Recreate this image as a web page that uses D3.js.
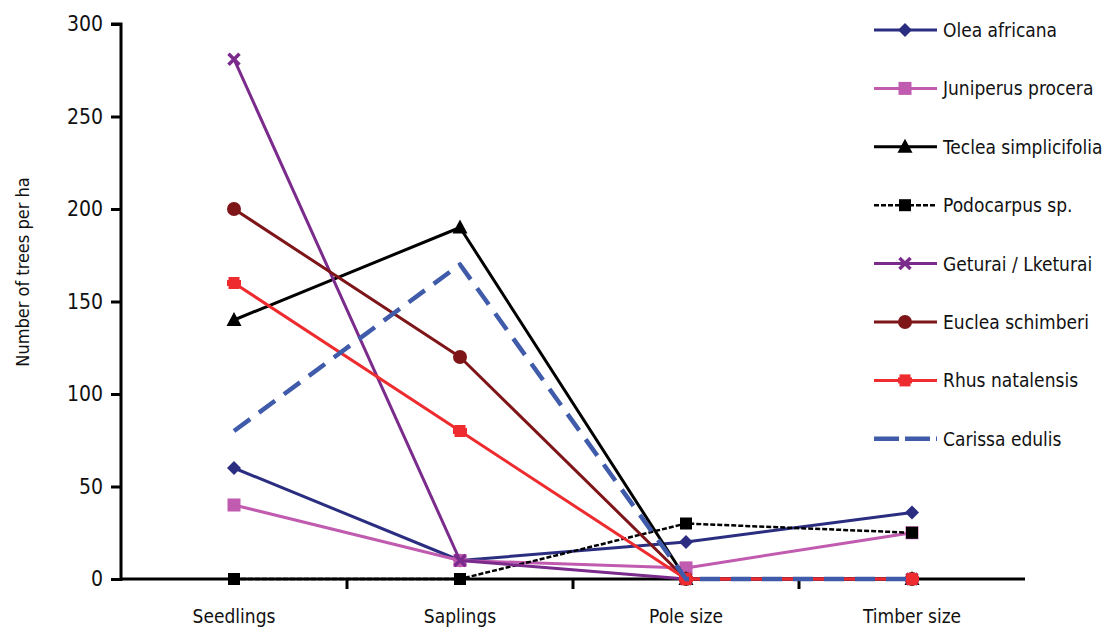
<!DOCTYPE html>
<html><head><meta charset="utf-8">
<script src="https://cdn.jsdelivr.net/npm/d3@7"></script>
<style>
body{margin:0;background:#fff;}
svg text{font-family:"DejaVu Sans Condensed","Liberation Sans Narrow","Open Sans",sans-serif;font-stretch:condensed;fill:#111;}
</style></head>
<body><svg id="c" width="1109" height="636"></svg>
<script>
const categories = ["Seedlings","Saplings","Pole size","Timber size"];
const seriesNames = ["Olea africana","Juniperus procera","Teclea simplicifolia","Podocarpus sp.","Geturai / Lketurai","Euclea schimberi","Rhus natalensis","Carissa edulis"];
const oleaAfricana = [60,10,20,36];
const juniperusProcera = [40,10,6,25];
const tecleaSimplicifolia = [140,190,0,0];
const podocarpusSp = [0,0,30,25];
const geturai = [281,10,0,0];
const eucleaSchimberi = [200,120,0,0];
const rhusNatalensis = [160,80,0,0];
const carissaEdulis = [80,170,0,0];
const yTicks = [0,50,100,150,200,250,300];

(function(){
const values = [oleaAfricana,juniperusProcera,tecleaSimplicifolia,podocarpusSp,geturai,eucleaSchimberi,rhusNatalensis,carissaEdulis];
const styles = [
  {color:"#2B2E80", w:3, dash:null, marker:"diamond"},
  {color:"#C05BAF", w:3, dash:null, marker:"square"},
  {color:"#000000", w:3, dash:null, marker:"triangle"},
  {color:"#000000", w:2.5, dash:"5,2", marker:"squareSmall"},
  {color:"#7A2B8C", w:3, dash:null, marker:"x"},
  {color:"#7E1518", w:3, dash:null, marker:"circle"},
  {color:"#EE2B2E", w:3, dash:null, marker:"rsquare"},
  {color:"#3F5BAA", w:4.5, dash:"20,11", marker:"none"}
];

const svg = d3.select("#c");
const mLeft = 121, mRight = 1025, mTop = 24, mBottom = 579;
const x = d3.scaleBand().domain(categories).range([mLeft, mRight]);
const y = d3.scaleLinear().domain([0,300]).range([mBottom, mTop]);

const yAxis = svg.append("g").attr("transform",`translate(${mLeft},0)`)
  .call(d3.axisLeft(y).tickValues(yTicks).tickSize(10).tickPadding(8));
yAxis.select(".domain").attr("stroke","#000").attr("stroke-width",3).attr("d",`M-10,${mTop}H0V${mBottom+2}`);
yAxis.selectAll(".tick line").attr("stroke","#000").attr("stroke-width",3);
yAxis.selectAll(".tick text").style("font-size","21px").attr("fill","#111");

const xAxis = svg.append("g").attr("transform",`translate(0,${mBottom})`)
  .call(d3.axisBottom(x).tickSize(0).tickPadding(31));
xAxis.select(".domain").remove();
xAxis.selectAll(".tick text").style("font-size","19px").attr("fill","#111");
svg.append("line").attr("x1",mLeft-1).attr("x2",mRight).attr("y1",mBottom).attr("y2",mBottom).attr("stroke","#000").attr("stroke-width",3);
categories.slice(1).forEach(c=>{
  const bx = x(c);
  svg.append("line").attr("x1",bx).attr("x2",bx).attr("y1",mBottom).attr("y2",mBottom+10).attr("stroke","#000").attr("stroke-width",3);
});

svg.append("text").attr("transform",`translate(29,272) rotate(-90)`)
  .attr("text-anchor","middle").style("font-size","18px").text("Number of trees per ha");

const cx = c => x(c) + x.bandwidth()/2;
const line = d3.line().x((d,i)=>cx(categories[i])).y(d=>y(d));

function drawMarker(g, type, px, py, color){
  switch(type){
    case "diamond":
      g.append("path").attr("d",`M${px},${py-7}L${px+7},${py}L${px},${py+7}L${px-7},${py}Z`).attr("fill",color); break;
    case "square":
      g.append("rect").attr("x",px-6.5).attr("y",py-6.5).attr("width",13).attr("height",13).attr("fill",color); break;
    case "squareSmall":
      g.append("rect").attr("x",px-6).attr("y",py-6).attr("width",12).attr("height",12).attr("fill",color); break;
    case "rsquare":
      g.append("rect").attr("x",px-5.5).attr("y",py-6).attr("width",11).attr("height",12).attr("fill",color);
      g.append("rect").attr("x",px-7).attr("y",py-3).attr("width",14).attr("height",6).attr("fill",color); break;
    case "triangle":
      g.append("path").attr("d",`M${px},${py-8}L${px+7.5},${py+6}L${px-7.5},${py+6}Z`).attr("fill",color); break;
    case "circle":
      g.append("circle").attr("cx",px).attr("cy",py).attr("r",7).attr("fill",color); break;
    case "x":
      g.append("path").attr("d",`M${px-5.5},${py-5.5}L${px+5.5},${py+5.5}M${px+5.5},${py-5.5}L${px-5.5},${py+5.5}`).attr("stroke",color).attr("stroke-width",3.5); break;
    default: break;
  }
}

const plot = svg.append("g");
values.forEach((vals,si)=>{
  const s = styles[si];
  const g = plot.append("g");
  g.append("path").datum(vals).attr("d",line).attr("fill","none").attr("stroke",s.color)
    .attr("stroke-width",s.w).attr("stroke-dasharray",s.dash).attr("stroke-linejoin","round");
  vals.forEach((v,i)=>drawMarker(g, s.marker, cx(categories[i]), y(v), s.color));
});

const leg = svg.append("g");
const legY0 = 30, legStep = 58.4;
seriesNames.forEach((n,i)=>{
  const s = styles[i];
  const ly = legY0 + i*legStep;
  const g = leg.append("g");
  g.append("line").attr("x1",874).attr("x2",937).attr("y1",ly).attr("y2",ly).attr("stroke",s.color)
    .attr("stroke-width",s.w).attr("stroke-dasharray",i===7?"25,6":s.dash);
  drawMarker(g, s.marker, 905, ly, s.color);
  g.append("text").attr("x",943).attr("y",ly+7).style("font-size","19px").text(n);
});
})();
</script></body></html>
